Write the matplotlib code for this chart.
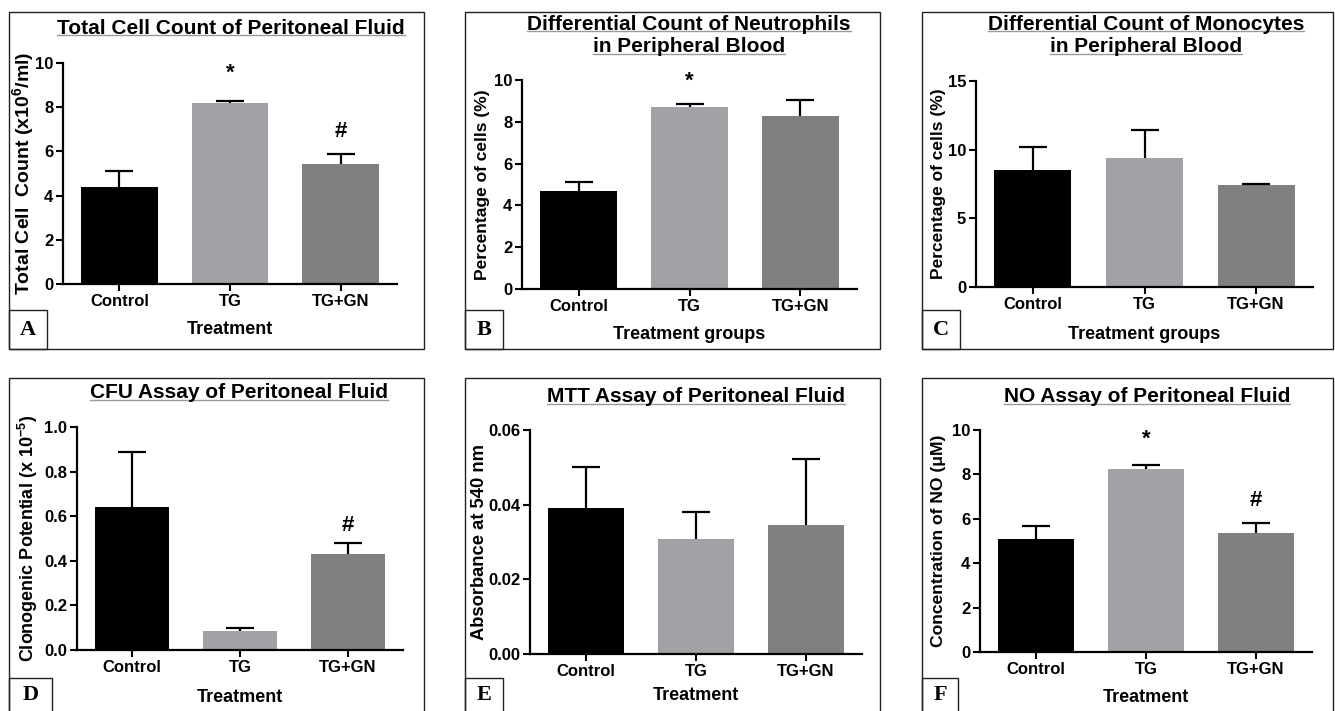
import matplotlib
matplotlib.use("Agg")
import matplotlib.pyplot as plt
from matplotlib.patches import Rectangle
from matplotlib.lines import Line2D

plt.rcParams['font.family'] = ['Liberation Sans', 'DejaVu Sans']
plt.rcParams['font.weight'] = 'bold'
plt.rcParams['mathtext.default'] = 'regular'

groups = ['Control', 'TG', 'TG+GN']
bar_colors = ['#000000', '#a2a2a6', '#808080']

cell_count = [4.37, 8.19, 5.44]
cell_count_err = [0.75, 0.08, 0.42]
neutrophils = [4.70, 8.72, 8.26]
neutrophils_err = [0.43, 0.13, 0.78]
monocytes = [8.52, 9.41, 7.43]
monocytes_err = [1.71, 2.01, 0.05]
cfu = [0.641, 0.087, 0.432]
cfu_err = [0.247, 0.013, 0.046]
mtt = [0.0391, 0.0307, 0.0346]
mtt_err = [0.0109, 0.0073, 0.0175]
no_conc = [5.11, 8.26, 5.34]
no_conc_err = [0.56, 0.15, 0.45]

W, H = 1335, 711
fig = plt.figure(figsize=(W / 100, H / 100), dpi=100)


def fx(x):
    return x / W


def fy(y):
    return 1 - y / H


# axes box (left, right, top, bottom px), frame (x0, x1, y0, y1), letter box, title pos
panels = [
    dict(v=cell_count, e=cell_count_err, title=['Total Cell Count of Peritoneal Fluid'],
         ylabel='Total Cell  Count (x10$^6$/ml)', yls=14, xlabel='Treatment',
         yticks=[0, 2, 4, 6, 8, 10], fmt='{:g}', marks=[(1, '*', 9.55), (2, '#', 6.88)],
         ax=(63, 397, 63, 284), frame=(9, 424, 12, 349), box=(9, 47, 310, 349), letter='A',
         ty=[28], tx=231, ylx=23, xly=329),
    dict(v=neutrophils, e=neutrophils_err, title=['Differential Count of Neutrophils', 'in Peripheral Blood'],
         ylabel='Percentage of cells (%)', yls=12.5, xlabel='Treatment groups',
         yticks=[0, 2, 4, 6, 8, 10], fmt='{:g}', marks=[(1, '*', 9.95)],
         ax=(522, 857, 80, 289), frame=(465, 880, 12, 349), box=(465, 503, 310, 349), letter='B',
         ty=[24, 47], tx=689, ylx=482, xly=335),
    dict(v=monocytes, e=monocytes_err, title=['Differential Count of Monocytes', 'in Peripheral Blood'],
         ylabel='Percentage of cells (%)', yls=12.5, xlabel='Treatment groups',
         yticks=[0, 5, 10, 15], fmt='{:g}', marks=[],
         ax=(976, 1313, 81, 287), frame=(922, 1333, 12, 349), box=(922, 960, 310, 349), letter='C',
         ty=[24, 47], tx=1146, ylx=938, xly=335),
    dict(v=cfu, e=cfu_err, title=['CFU Assay of Peritoneal Fluid'],
         ylabel='Clonogenic Potential (x 10$^{-5}$)', yls=13, xlabel='Treatment',
         yticks=[0, 0.2, 0.4, 0.6, 0.8, 1.0], fmt='{:.1f}', marks=[(2, '#', 0.56)],
         ax=(77, 403, 427, 650), frame=(9, 424, 378, 715), box=(9, 52, 678, 715), letter='D',
         ty=[393], tx=239, ylx=28, xly=698),
    dict(v=mtt, e=mtt_err, title=['MTT Assay of Peritoneal Fluid'],
         ylabel='Absorbance at 540 nm', yls=13.2, xlabel='Treatment',
         yticks=[0, 0.02, 0.04, 0.06], fmt='{:.2f}', marks=[],
         ax=(530, 862, 430, 654), frame=(465, 880, 378, 715), box=(465, 503, 678, 715), letter='E',
         ty=[397], tx=696, ylx=480, xly=696),
    dict(v=no_conc, e=no_conc_err, title=['NO Assay of Peritoneal Fluid'],
         ylabel='Concentration of NO (μM)', yls=12.6, xlabel='Treatment',
         yticks=[0, 2, 4, 6, 8, 10], fmt='{:g}', marks=[(1, '*', 9.6), (2, '#', 6.84)],
         ax=(980, 1312, 430, 652), frame=(922, 1333, 378, 715), box=(922, 958, 678, 715), letter='F',
         ty=[397], tx=1147, ylx=938, xly=698),
]

title_texts = []
for p in panels:
    l, r, t, b = p['ax']
    ax = fig.add_axes([fx(l), fy(b), fx(r) - fx(l), fy(t) - fy(b)])
    x = range(len(groups))
    bars = ax.bar(x, p['v'], width=0.69, color=bar_colors, zorder=2,
                  yerr=[[0] * len(groups), p['e']],
                  error_kw=dict(ecolor='black', elinewidth=1.6, capsize=10, capthick=1.6, zorder=3))
    # only the upper cap is shown
    caps = bars.errorbar.lines[1]
    caps[0].set_visible(False)

    ax.set_xlim(-0.51, 2.51)
    ax.set_ylim(0, p['yticks'][-1])
    ax.set_yticks(p['yticks'])
    ax.set_yticklabels([p['fmt'].format(t) for t in p['yticks']])
    ax.set_xticks(list(x))
    ax.set_xticklabels(groups)
    for s in ['top', 'right']:
        ax.spines[s].set_visible(False)
    for s in ['left', 'bottom']:
        ax.spines[s].set_linewidth(1.6)
    ax.tick_params(width=1.5, length=5, labelsize=12, pad=2)
    for lab in ax.get_xticklabels() + ax.get_yticklabels():
        lab.set_fontweight('bold')
    for gi, sym, yv in p['marks']:
        ax.text(gi, yv, sym, ha='center', va='center', fontsize=16, fontweight='bold')

    fig.text(fx(p['ylx']), fy((t + b) / 2), p['ylabel'], rotation=90, ha='center', va='center',
             fontsize=p['yls'], fontweight='bold')
    fig.text(fx((l + r) / 2), fy(p['xly']), p['xlabel'], ha='center', va='center',
             fontsize=13, fontweight='bold')

    for line, yy in zip(p['title'], p['ty']):
        tt = fig.text(fx(p['tx']), fy(yy), line, ha='center', va='center',
                      fontsize=15, fontweight='bold')
        title_texts.append(tt)

    x0, x1, y0, y1 = p['frame']
    fig.add_artist(Rectangle((fx(x0), fy(y1)), fx(x1) - fx(x0), fy(y0) - fy(y1),
                             transform=fig.transFigure, fill=False, edgecolor='#222222', lw=1.0))
    bx0, bx1, by0, by1 = p['box']
    fig.add_artist(Rectangle((fx(bx0), fy(by1)), fx(bx1) - fx(bx0), fy(by0) - fy(by1),
                             transform=fig.transFigure, fill=False, edgecolor='#222222', lw=1.0))
    fig.text(fx((bx0 + bx1) / 2), fy((by0 + min(by1, 711)) / 2), p['letter'], ha='center', va='center',
             fontsize=16, fontweight='bold', family='Liberation Serif')

# underline titles
fig.canvas.draw()
renderer = fig.canvas.get_renderer()
for tt in title_texts:
    bb = tt.get_window_extent(renderer)
    yline = (bb.y0 + 3) / H
    fig.add_artist(Line2D([bb.x0 / W, bb.x1 / W], [yline, yline], transform=fig.transFigure,
                          color='#9a9a9a', lw=1.0))

fig.savefig('out.png', dpi=100)
